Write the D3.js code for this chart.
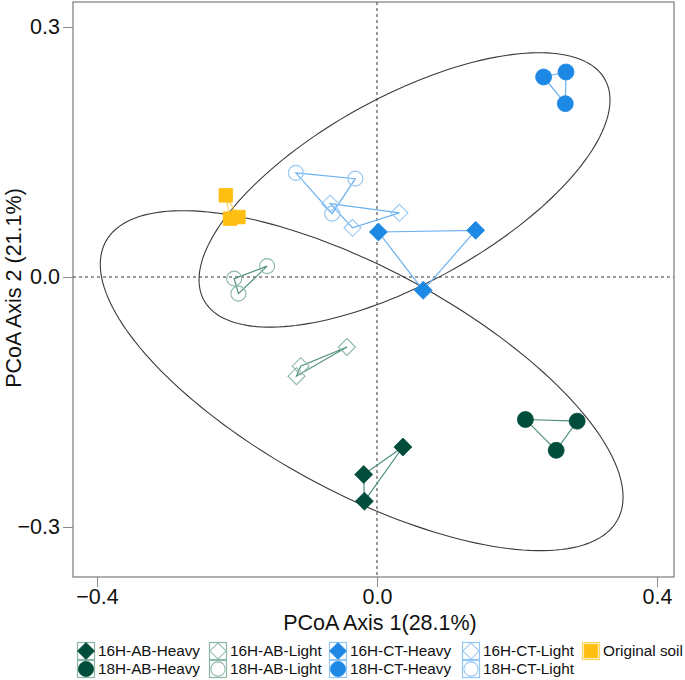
<!DOCTYPE html>
<html>
<head>
<meta charset="utf-8">
<script src="https://cdn.jsdelivr.net/npm/d3@7"></script>
<style>
  html, body { margin: 0; padding: 0; background: #fff; }
  svg { display: block; font-family: "Liberation Sans", Arial, sans-serif; }
</style>
</head>
<body>
<svg id="chart" width="685" height="680"></svg>
<script>
// ---------- data (PCoA coordinates) ----------
const seriesNames = ["16H-AB-Heavy", "16H-AB-Light", "16H-CT-Heavy", "16H-CT-Light", "Original soil",
                     "18H-AB-Heavy", "18H-AB-Light", "18H-CT-Heavy", "18H-CT-Light"];
const pts16ABHeavy = [[0.037, -0.204], [-0.019, -0.237], [-0.018, -0.269]];
const pts16ABLight = [[-0.043, -0.084], [-0.109, -0.107], [-0.115, -0.119]];
const pts16CTHeavy = [[0.002, 0.054], [0.141, 0.056], [0.066, -0.016]];
const pts16CTLight = [[-0.067, 0.088], [0.032, 0.077], [-0.035, 0.059]];
const ptsOriginal  = [[-0.216, 0.098], [-0.210, 0.070], [-0.198, 0.072]];
const pts18ABHeavy = [[0.212, -0.171], [0.286, -0.173], [0.256, -0.208]];
const pts18ABLight = [[-0.204, -0.002], [-0.157, 0.013], [-0.198, -0.020]];
const pts18CTHeavy = [[0.238, 0.240], [0.270, 0.246], [0.269, 0.208]];
const pts18CTLight = [[-0.116, 0.125], [-0.031, 0.118], [-0.064, 0.076]];

// confidence ellipses: centre and shape matrix (data units)
const ellipseCentres = [[0.0393, 0.1045], [-0.0219, -0.1244]];
const ellipseShapes  = [[[0.08618, 0.03167], [0.03167, 0.02711]],
                        [[0.13945, -0.05212], [-0.05212, 0.04162]]];

const xTicks = [-0.4, 0.0, 0.4];
const yTicks = [-0.3, 0.0, 0.3];
const xTitle = "PCoA Axis 1(28.1%)";
const yTitle = "PCoA Axis 2 (21.1%)";

// ---------- styles ----------
const DARK = "#004d3b", AB_LIGHT = "#8db8a8", AB_LINE = "#4f8f7e";
const BLUE = "#1e88e5", CT_LIGHT = "#94c6f5", CT_LINE = "#6cb0ef";
const ORANGE = "#ffbf12", OR_LINE = "#ffd45c";

const seriesPts = [pts16ABHeavy, pts16ABLight, pts16CTHeavy, pts16CTLight, ptsOriginal,
                   pts18ABHeavy, pts18ABLight, pts18CTHeavy, pts18CTLight];
const seriesStyle = [
  {shape: "diamond", fill: DARK, stroke: DARK, line: AB_LINE, key: AB_LIGHT},
  {shape: "diamond", fill: "#fff", stroke: AB_LIGHT, line: AB_LINE, key: AB_LIGHT, hollow: true},
  {shape: "diamond", fill: BLUE, stroke: BLUE, line: CT_LINE, key: CT_LIGHT},
  {shape: "diamond", fill: "#fff", stroke: CT_LIGHT, line: CT_LINE, key: CT_LIGHT, hollow: true},
  {shape: "square", fill: ORANGE, stroke: ORANGE, line: OR_LINE, key: OR_LINE},
  {shape: "circle", fill: DARK, stroke: DARK, line: AB_LINE, key: AB_LIGHT},
  {shape: "circle", fill: "#fff", stroke: AB_LIGHT, line: AB_LINE, key: AB_LIGHT, hollow: true},
  {shape: "circle", fill: BLUE, stroke: BLUE, line: CT_LINE, key: CT_LIGHT},
  {shape: "circle", fill: "#fff", stroke: CT_LIGHT, line: CT_LINE, key: CT_LIGHT, hollow: true}
];

// ---------- layout ----------
const L = 73, R = 674, T = 2, B = 577;
const x = d3.scaleLinear().domain([-0.4343, 0.4243]).range([L, R]);
const y = d3.scaleLinear().domain([-0.36, 0.33]).range([B, T]);

const svg = d3.select("#chart");

function symbolPath(shape, hollow) {
  if (shape === "diamond") { const h = hollow ? 8.5 : 9; return `M0,${-h}L${h},0L0,${h}L${-h},0Z`; }
  if (shape === "square") { const h = 6.8; return `M${-h},${-h}H${h}V${h}H${-h}Z`; }
  const r = hollow ? 7.5 : 8;
  return `M${r},0A${r},${r} 0 1,1 ${-r},0A${r},${r} 0 1,1 ${r},0Z`;
}

// dashed zero lines
svg.append("line").attr("x1", x(0)).attr("x2", x(0)).attr("y1", T).attr("y2", B)
  .attr("stroke", "#333").attr("stroke-dasharray", "3,3").attr("stroke-width", 1);
svg.append("line").attr("x1", L).attr("x2", R).attr("y1", y(0)).attr("y2", y(0))
  .attr("stroke", "#333").attr("stroke-dasharray", "3,3").attr("stroke-width", 1);

// ellipses
ellipseCentres.forEach((c, i) => {
  const M = ellipseShapes[i];
  const l11 = Math.sqrt(M[0][0]);
  const l21 = M[1][0] / l11;
  const l22 = Math.sqrt(M[1][1] - l21 * l21);
  const pts = d3.range(0, 361, 2).map(deg => {
    const t = deg * Math.PI / 180;
    const u = Math.cos(t), v = Math.sin(t);
    return [c[0] + l11 * u, c[1] + l21 * u + l22 * v];
  });
  svg.append("path")
    .attr("d", d3.line().x(d => x(d[0])).y(d => y(d[1])).curve(d3.curveLinearClosed)(pts))
    .attr("fill", "none").attr("stroke", "#3a3a3a").attr("stroke-width", 1.1);
});

// connecting lines
seriesPts.forEach((pts, i) => {
  svg.append("path")
    .attr("d", d3.line().x(d => x(d[0])).y(d => y(d[1])).curve(d3.curveLinearClosed)(pts))
    .attr("fill", "none").attr("stroke", seriesStyle[i].line).attr("stroke-width", 1.2);
});

// points
seriesPts.forEach((pts, i) => {
  const s = seriesStyle[i];
  svg.append("g").selectAll("path").data(pts).join("path")
    .attr("transform", d => `translate(${x(d[0])},${y(d[1])})`)
    .attr("d", symbolPath(s.shape, s.hollow))
    .attr("fill", s.hollow ? "none" : s.fill)
    .attr("stroke", s.stroke).attr("stroke-width", s.hollow ? 1.1 : 0.8);
});

// frame
svg.append("rect").attr("x", L).attr("y", T).attr("width", R - L).attr("height", B - T)
  .attr("fill", "none").attr("stroke", "#6e6e6e").attr("stroke-width", 1.1);

// axes
const xAxis = svg.append("g").attr("transform", `translate(0,${B})`)
  .call(d3.axisBottom(x).tickValues(xTicks).tickSize(10).tickPadding(2).tickFormat(d3.format(".1f")));
const yAxis = svg.append("g").attr("transform", `translate(${L},0)`)
  .call(d3.axisLeft(y).tickValues(yTicks).tickSize(10).tickPadding(3).tickFormat(d3.format(".1f")));
[xAxis, yAxis].forEach(a => {
  a.select(".domain").remove();
  a.selectAll(".tick line").attr("stroke", "#8a8a8a");
  a.selectAll(".tick text").attr("fill", "#111").style("font-size", "21.5px")
    .style("font-family", '"Liberation Sans", Arial, sans-serif');
});

svg.append("text").attr("x", 380).attr("y", 630).attr("text-anchor", "middle")
  .style("font-size", "21.5px").attr("fill", "#111").text(xTitle);
svg.append("text").attr("transform", "translate(21,288) rotate(-90)").attr("text-anchor", "middle")
  .style("font-size", "21.5px").attr("fill", "#111").text(yTitle);

// legend
const keyX = [77, 209, 329, 462, 582];
const rowTop = [642, 660];
const K = 18;
seriesNames.forEach((name, i) => {
  const row = i < 5 ? 0 : 1, col = i < 5 ? i : i - 5;
  const s = seriesStyle[i];
  const g = svg.append("g").attr("transform", `translate(${keyX[col]},${rowTop[row]})`);
  g.append("rect").attr("x", 0.5).attr("y", 0.5).attr("width", K - 1).attr("height", K - 1)
    .attr("fill", "#fff").attr("stroke", s.key).attr("stroke-width", 1.2);
  const sc = s.shape === "square" ? 1.0 : 0.95;
  g.append("path").attr("transform", `translate(${K / 2},${K / 2}) scale(${sc})`)
    .attr("d", symbolPath(s.shape, s.hollow))
    .attr("fill", s.hollow ? "none" : s.fill).attr("stroke", s.stroke).attr("stroke-width", s.hollow ? 1.1 : 0.8);
  g.append("text").attr("x", K + 3).attr("y", K / 2).attr("dy", "0.35em")
    .style("font-size", "15.3px").attr("fill", "#111").text(name);
});
</script>
</body>
</html>
